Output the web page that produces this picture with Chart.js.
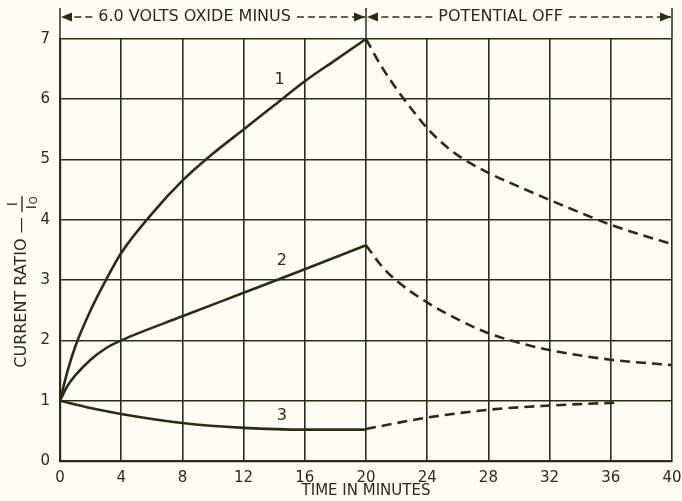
<!DOCTYPE html>
<html>
<head>
<meta charset="utf-8">
<script src="https://cdn.jsdelivr.net/npm/chart.js@4"></script>
<style>
  html, body { margin: 0; padding: 0; background: #fdfdf6; }
  #wrap { width: 682px; height: 501px; }
</style>
</head>
<body>
<div id="wrap"><canvas id="myChart" width="682" height="501"></canvas></div>
<script>
// time (minutes) and current ratio I/Io
const t1On = [0, 0.5, 1, 2, 3, 4, 6, 8, 10, 12, 14, 16, 18, 20];
const r1On = [1, 1.5, 1.9, 2.5, 3.0, 3.45, 4.1, 4.65, 5.1, 5.5, 5.9, 6.3, 6.65, 7.0];
const t1Off = [20, 21, 22, 23, 24, 25, 26, 28, 30, 32, 34, 36, 38, 40];
const r1Off = [7.0, 6.55, 6.17, 5.83, 5.52, 5.27, 5.07, 4.78, 4.55, 4.33, 4.12, 3.92, 3.75, 3.6];

const t2On = [0, 0.5, 1, 2, 3, 4, 8, 12, 16, 20];
const r2On = [1, 1.25, 1.42, 1.68, 1.87, 2.0, 2.4, 2.79, 3.18, 3.58];
const t2Off = [20, 21, 22, 24, 26, 28, 30, 32, 36, 40];
const r2Off = [3.58, 3.24, 2.99, 2.63, 2.35, 2.12, 1.96, 1.84, 1.68, 1.59];

const t3On = [0, 2, 4, 8, 12, 16, 20];
const r3On = [1, 0.88, 0.78, 0.63, 0.55, 0.52, 0.52];
const t3Off = [20, 22, 24, 28, 32, 36.5];
const r3Off = [0.53, 0.63, 0.72, 0.85, 0.92, 0.97];

const xTicks = [0, 4, 8, 12, 16, 20, 24, 28, 32, 36, 40];
const yTicks = [0, 1, 2, 3, 4, 5, 6, 7];

const curveLabels = ["1", "2", "3"];
const curveLabelX = [14.35, 14.5, 14.5];
const curveLabelY = [6.33, 3.32, 0.75];

const ink = "#2d2a1b";
const paper = "#fdfdf6";
const font = "'DejaVu Sans', sans-serif";

const pts = (xs, ys) => xs.map((x, i) => ({ x: x, y: ys[i] }));

const curve = (xs, ys, dashed) => ({
  data: pts(xs, ys),
  borderColor: ink,
  borderWidth: 2.6,
  borderDash: dashed ? [10, 6] : [],
  pointRadius: 0,
  fill: false,
  cubicInterpolationMode: "monotone"
});

const paperPlugin = {
  id: "paper",
  beforeDraw(chart) {
    const ctx = chart.ctx;
    ctx.save();
    ctx.fillStyle = paper;
    ctx.fillRect(0, 0, chart.width, chart.height);
    ctx.restore();
  }
};

const arrowHead = (ctx, x, y, dir) => {
  ctx.beginPath();
  ctx.moveTo(x, y);
  ctx.lineTo(x - dir * 11, y - 4.5);
  ctx.lineTo(x - dir * 11, y + 4.5);
  ctx.closePath();
  ctx.fill();
};

const dashedArrow = (ctx, x1, x2, y) => {
  // arrow head at x2
  ctx.setLineDash([7, 4]);
  ctx.beginPath();
  ctx.moveTo(x1, y);
  ctx.lineTo(x2, y);
  ctx.stroke();
  ctx.setLineDash([]);
  arrowHead(ctx, x2, y, x2 > x1 ? 1 : -1);
};

const notesPlugin = {
  id: "notes",
  afterDraw(chart) {
    const ctx = chart.ctx;
    const xs = chart.scales.x, ys = chart.scales.y;
    const area = chart.chartArea;
    ctx.save();
    ctx.strokeStyle = ink;
    ctx.fillStyle = ink;

    // bracket lines above the plot
    const x0 = xs.getPixelForValue(0);
    const x20 = xs.getPixelForValue(20);
    const x40 = xs.getPixelForValue(40);
    ctx.lineWidth = 1.5;
    [x0, x20, x40].forEach(px => {
      ctx.beginPath();
      ctx.moveTo(px, 8);
      ctx.lineTo(px, area.top);
      ctx.stroke();
    });

    const yA = 17;
    ctx.font = "16px " + font;
    ctx.textBaseline = "middle";
    ctx.textAlign = "center";
    const t1 = "6.0 VOLTS OXIDE MINUS";
    const t2 = "POTENTIAL OFF";
    const c1 = x0 + (x20 - x0) * 0.44;
    const c2 = x20 + (x40 - x20) * 0.44;
    ctx.fillText(t1, c1, yA);
    ctx.fillText(t2, c2, yA);
    const w1 = ctx.measureText(t1).width / 2 + 6;
    const w2 = ctx.measureText(t2).width / 2 + 6;
    ctx.lineWidth = 1.3;
    dashedArrow(ctx, c1 - w1, x0 + 1, yA);
    dashedArrow(ctx, c1 + w1, x20 - 1, yA);
    dashedArrow(ctx, c2 - w2, x20 + 1, yA);
    dashedArrow(ctx, c2 + w2, x40 - 1, yA);

    // curve numbers
    ctx.font = "16px " + font;
    curveLabels.forEach((lab, i) => {
      ctx.fillText(lab, xs.getPixelForValue(curveLabelX[i]), ys.getPixelForValue(curveLabelY[i]));
    });

    // y axis title with I / Io fraction
    const cx = 22;
    const cy = (area.top + area.bottom) / 2 + 32;
    ctx.translate(cx, cy);
    ctx.rotate(-Math.PI / 2);
    ctx.font = "16px " + font;
    ctx.textAlign = "left";
    const main = "CURRENT RATIO \u2014 ";
    const mw = ctx.measureText(main).width;
    const start = -(mw + 16) / 2;
    ctx.fillText(main, start, 0);
    const fx = start + mw + 8;
    ctx.textAlign = "center";
    ctx.font = "14px " + font;
    ctx.fillText("I", fx, -9);
    ctx.lineWidth = 1.4;
    ctx.beginPath();
    ctx.moveTo(fx - 8, 0);
    ctx.lineTo(fx + 8, 0);
    ctx.stroke();
    ctx.fillText("I", fx - 3, 10);
    ctx.font = "10px " + font;
    ctx.fillText("O", fx + 4, 12);
    ctx.restore();
  }
};

new Chart(document.getElementById("myChart"), {
  type: "line",
  data: {
    datasets: [
      curve(t1On, r1On, false),
      curve(t1Off, r1Off, true),
      curve(t2On, r2On, false),
      curve(t2Off, r2Off, true),
      curve(t3On, r3On, false),
      curve(t3Off, r3Off, true)
    ]
  },
  options: {
    responsive: false,
    animation: false,
    layout: { padding: { top: 39, right: 10, left: 0, bottom: 0 } },
    plugins: {
      legend: { display: false },
      tooltip: { enabled: false }
    },
    scales: {
      x: {
        type: "linear",
        min: 0,
        max: 40,
        afterBuildTicks: (scale) => { scale.ticks = xTicks.map(v => ({ value: v })); },
        afterFit: (scale) => { scale.height = 40; scale.paddingRight = 0; scale.paddingLeft = 0; },
        grid: { color: ink, lineWidth: 1.6, drawTicks: false },
        border: { display: true, color: ink, width: 2.2 },
        ticks: { color: ink, font: { family: font, size: 15 }, padding: 8, maxRotation: 0 },
        title: { display: true, text: "TIME IN MINUTES", color: ink, font: { family: font, size: 15 }, padding: { top: 0, bottom: 1 } }
      },
      y: {
        type: "linear",
        min: 0,
        max: 7,
        afterBuildTicks: (scale) => { scale.ticks = yTicks.map(v => ({ value: v })); },
        afterFit: (scale) => { scale.width = 60; scale.paddingTop = 0; scale.paddingBottom = 0; },
        grid: { color: ink, lineWidth: 1.6, drawTicks: false },
        border: { display: true, color: ink, width: 2.2 },
        ticks: { color: ink, font: { family: font, size: 15 }, padding: 10 }
      }
    }
  },
  plugins: [paperPlugin, notesPlugin]
});
</script>
</body>
</html>
